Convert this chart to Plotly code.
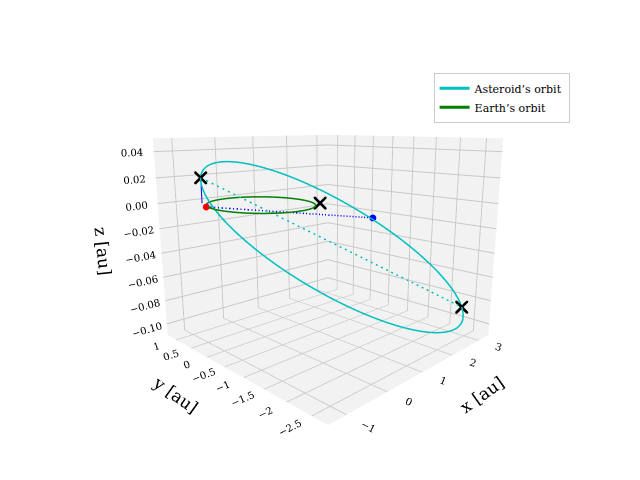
import numpy as np
import plotly.graph_objects as go

# orbital data (au)
perihelion = [-0.75, 0.8, 0.02]
aphelion = [2.95, -2.45, -0.085]
semi_minor = 1.05
minor_tilt_z = 0.035
earth_radius = 1.0
earth_pos = [-0.95, 0.4, 0.0]
asteroid_pos = [2.6, -0.6, -0.02]
node_mid = [0.95, -0.6, 0.0]

P = np.array(perihelion); A = np.array(aphelion)
c = (P + A) / 2; u = (A - P) / 2; a = np.linalg.norm(u); uh = u / a
vh = np.cross([0, 0, 1], uh); vh /= np.linalg.norm(vh)
t = np.linspace(0, 2*np.pi, 300)
orb = c[:, None] + a*np.cos(t)*uh[:, None] + semi_minor*np.sin(t)*vh[:, None]
orb[2] = c[2] + (A[2]-c[2])*np.cos(t) + minor_tilt_z*np.sin(t)
ex = earth_radius*np.cos(t); ey = earth_radius*np.sin(t)

fig = go.Figure()
fig.add_trace(go.Scatter3d(x=orb[0], y=orb[1], z=orb[2], mode='lines', line=dict(color='#00bfbf', width=3), name="Asteroid’s orbit"))
fig.add_trace(go.Scatter3d(x=ex, y=ey, z=0*ex, mode='lines', line=dict(color='green', width=3), name="Earth’s orbit"))
fig.add_trace(go.Scatter3d(x=[P[0], A[0]], y=[P[1], A[1]], z=[P[2], A[2]], mode='lines', line=dict(color='#00bfbf', width=3, dash='dash'), showlegend=False))
fig.add_trace(go.Scatter3d(x=[earth_pos[0], asteroid_pos[0]], y=[earth_pos[1], asteroid_pos[1]], z=[earth_pos[2], asteroid_pos[2]], mode='lines', line=dict(color='blue', width=3, dash='dash'), showlegend=False))
fig.add_trace(go.Scatter3d(x=[P[0], P[0]], y=[P[1], P[1]], z=[0, P[2]], mode='lines', line=dict(color='blue', width=2), showlegend=False))
fig.add_trace(go.Scatter3d(x=[P[0], node_mid[0], A[0]], y=[P[1], node_mid[1], A[1]], z=[P[2], node_mid[2], A[2]], mode='markers', marker=dict(symbol='x', color='black', size=3), showlegend=False))
fig.add_trace(go.Scatter3d(x=[earth_pos[0]], y=[earth_pos[1]], z=[earth_pos[2]], mode='markers', marker=dict(color='red', size=4), showlegend=False))
fig.add_trace(go.Scatter3d(x=[asteroid_pos[0]], y=[asteroid_pos[1]], z=[asteroid_pos[2]], mode='markers', marker=dict(color='blue', size=4), showlegend=False))

ax = dict(showbackground=True, backgroundcolor='#f2f2f2', gridcolor='#c8c8c8', zeroline=False, tickfont=dict(size=11))
fig.update_layout(
    width=640, height=480, paper_bgcolor='white',
    font=dict(family='DejaVu Serif', color='black'),
    margin=dict(l=0, r=0, t=0, b=0),
    legend=dict(x=0.665, y=0.865, xanchor='left', yanchor='top', bordercolor='#cccccc', borderwidth=1, font=dict(size=11)),
    scene=dict(
        xaxis=dict(ax, title=dict(text='x [au]', font=dict(size=17)), range=[-1.4, 3.4], tickvals=[-1, 0, 1, 2, 3]),
        yaxis=dict(ax, title=dict(text='y [au]', font=dict(size=17)), range=[-2.8, 1.3], tickvals=[1.0, 0.5, 0.0, -0.5, -1.0, -1.5, -2.0, -2.5]),
        zaxis=dict(ax, title=dict(text='z [au]', font=dict(size=17)), range=[-0.11, 0.05], tickvals=[0.04, 0.02, 0, -0.02, -0.04, -0.06, -0.08, -0.10], tickformat='.2f'),
        aspectmode='manual', aspectratio=dict(x=1, y=1, z=0.85),
        camera=dict(eye=dict(x=-1.52, y=-1.52, z=0.48), center=dict(x=0, y=0, z=-0.03)),
        domain=dict(x=[0.03, 0.97], y=[0.05, 0.95]),
    ),
)
fig.write_html('out.html')
